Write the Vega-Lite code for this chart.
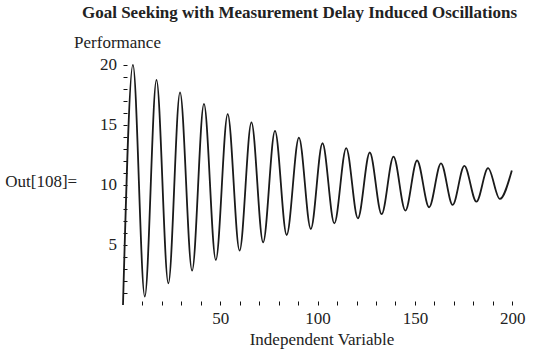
{
  "$schema": "https://vega.github.io/schema/vega-lite/v6.json",
  "width": 397,
  "height": 245,
  "autosize": {"type": "none"},
  "padding": {"left": 123, "top": 60, "right": 27, "bottom": 48},
  "background": "white",
  "config": {"view": {"stroke": null}, "font": "Liberation Serif", "axis": {"labelOverlap": false}},
  "title": {
    "text": "Goal Seeking with Measurement Delay Induced Oscillations",
    "font": "Liberation Serif",
    "fontSize": 17,
    "fontWeight": "bold",
    "color": "#222222",
    "anchor": "middle",
    "dx": -22,
    "offset": 11
  },
  "layer": [
    {
      "mark": {"type": "rule", "color": "#111111", "strokeWidth": 1},
      "encoding": {
        "x": {"datum": -4},
        "x2": {"datum": 204},
        "y": {"datum": 0}
      }
    },
    {
      "mark": {"type": "rule", "color": "#111111", "strokeWidth": 1},
      "encoding": {
        "x": {"datum": 0},
        "y": {"datum": -0.4},
        "y2": {"datum": 20.4}
      }
    },
    {
      "data": {
        "values": [
          {"t": 0, "v": 0},
          {"t": 5.1, "v": 20.0},
          {"t": 11.2, "v": 0.7},
          {"t": 17.2, "v": 18.75},
          {"t": 23.3, "v": 1.8},
          {"t": 29.3, "v": 17.7},
          {"t": 35.5, "v": 2.86},
          {"t": 41.6, "v": 16.75},
          {"t": 47.7, "v": 3.75},
          {"t": 53.8, "v": 15.9},
          {"t": 59.9, "v": 4.53},
          {"t": 66.0, "v": 15.2},
          {"t": 72.0, "v": 5.22},
          {"t": 78.1, "v": 14.5},
          {"t": 84.1, "v": 5.83},
          {"t": 90.4, "v": 13.94},
          {"t": 96.5, "v": 6.33},
          {"t": 102.5, "v": 13.47},
          {"t": 108.6, "v": 6.8},
          {"t": 114.7, "v": 13.06},
          {"t": 120.7, "v": 7.22},
          {"t": 126.8, "v": 12.7},
          {"t": 132.9, "v": 7.56},
          {"t": 139.0, "v": 12.36},
          {"t": 145.1, "v": 7.86},
          {"t": 151.1, "v": 12.03},
          {"t": 157.3, "v": 8.14},
          {"t": 163.4, "v": 11.8},
          {"t": 169.4, "v": 8.33},
          {"t": 175.4, "v": 11.58},
          {"t": 181.6, "v": 8.6},
          {"t": 187.6, "v": 11.39},
          {"t": 193.6, "v": 8.83},
          {"t": 199.8, "v": 11.2}
        ]
      },
      "mark": {"type": "line", "interpolate": "monotone", "color": "#1a1a1a", "strokeWidth": 1.8},
      "encoding": {
        "x": {
          "field": "t",
          "type": "quantitative",
          "scale": {"domain": [0, 204], "nice": false, "zero": false},
          "axis": {
            "values": [10, 20, 30, 40, 50, 60, 70, 80, 90, 100, 110, 120, 130, 140, 150, 160, 170, 180, 190, 200],
            "tickCount": 100,
            "format": "d",
            "labelExpr": "datum.value % 50 === 0 ? datum.label : ''",
            "labelOverlap": false,
            "labelFlush": false,
            "labelBound": false,
            "domain": false,
            "title": "Independent Variable",
            "grid": false,
            "tickColor": "#111111",
            "tickSize": -4,
            "labelFont": "Liberation Serif",
            "labelFontSize": 17,
            "labelColor": "#222222",
            "labelPadding": 9,
            "titleFont": "Liberation Serif",
            "titleFontSize": 17,
            "titleFontWeight": "normal",
            "titleColor": "#222222",
            "titlePadding": 5
          }
        },
        "y": {
          "field": "v",
          "type": "quantitative",
          "scale": {"domain": [0, 20.4], "nice": false, "zero": false},
          "axis": {
            "values": [1, 2, 3, 4, 5, 6, 7, 8, 9, 10, 11, 12, 13, 14, 15, 16, 17, 18, 19, 20],
            "tickCount": 100,
            "format": "d",
            "labelExpr": "datum.value % 5 === 0 ? datum.label : ''",
            "labelOverlap": false,
            "labelFlush": false,
            "labelBound": false,
            "domain": false,
            "title": "Performance",
            "titleAngle": 0,
            "titleAlign": "center",
            "titleBaseline": "alphabetic",
            "titleX": -6,
            "titleY": -13,
            "grid": false,
            "tickColor": "#111111",
            "tickSize": -4,
            "labelFont": "Liberation Serif",
            "labelFontSize": 17,
            "labelColor": "#222222",
            "labelPadding": 10.5,
            "titleFont": "Liberation Serif",
            "titleFontSize": 17,
            "titleFontWeight": "normal",
            "titleColor": "#222222"
          }
        }
      }
    },
    {
      "data": {"values": [{"label": "Out[108]="}]},
      "mark": {"type": "text", "font": "Liberation Serif", "fontSize": 17, "color": "#222222", "align": "left", "baseline": "alphabetic"},
      "encoding": {
        "text": {"field": "label"},
        "x": {"datum": -60.5},
        "y": {"datum": 9.8}
      }
    }
  ]
}
